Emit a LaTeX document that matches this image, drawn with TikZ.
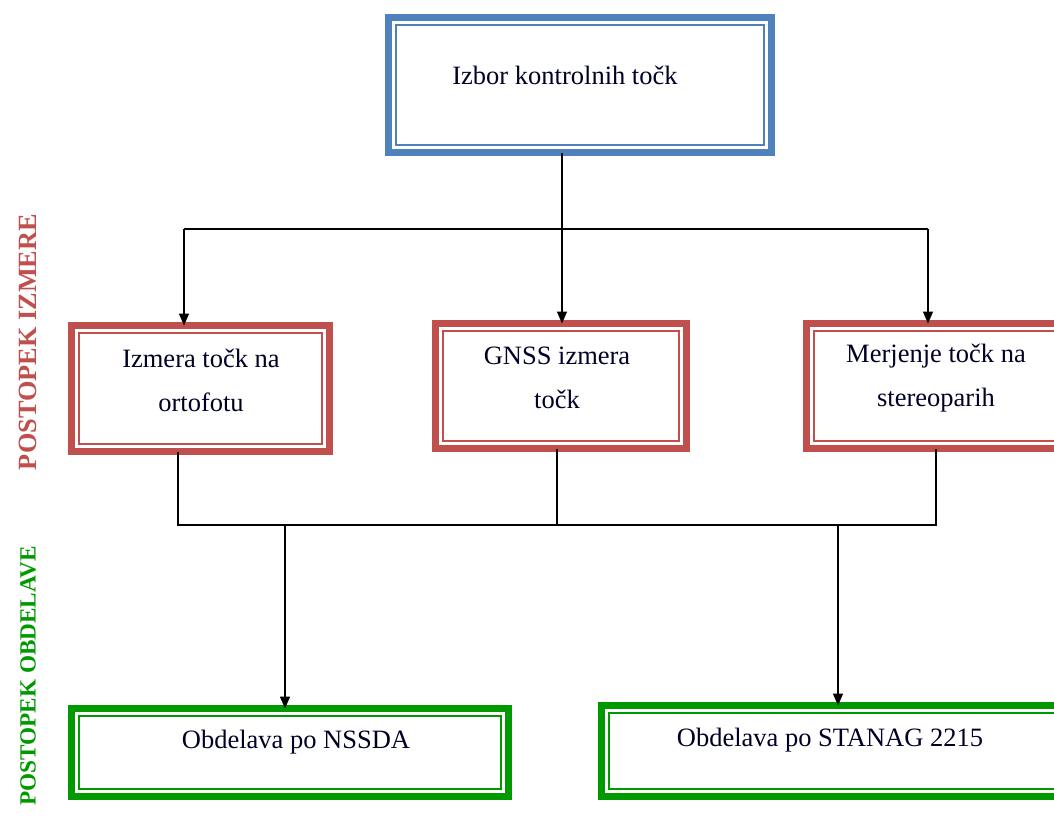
\documentclass[tikz,border=0pt]{standalone}
\usepackage{fontspec}
\setmainfont{Liberation Serif}
\usetikzlibrary{arrows.meta}
\definecolor{boxblue}{RGB}{79,129,189}
\definecolor{boxred}{RGB}{192,80,77}
\definecolor{boxgreen}{RGB}{0,153,0}
\begin{document}
\begin{tikzpicture}[x=1pt,y=-1pt,
  outerbox/.style={draw=#1, line width=7.5pt, inner sep=0pt, outer sep=0pt, rectangle},
  innerline/.style={draw=#1, line width=1.6pt},
  boxtext/.style={font=\fontsize{26.5}{44}\selectfont, align=center, inner sep=0pt, text=black!85!blue},
  sidelabel/.style={font=\fontsize{#1}{30}\selectfont\bfseries, rotate=90, inner sep=0pt},
  conn/.style={draw=black, line width=1.5pt},
  arr/.style={conn, -{Triangle[length=12pt,width=10pt]}}
]
\useasboundingbox (0,0) rectangle (1054,839);
\fill[white] (0,0) rectangle (1054,839);

% boxes (path centres)
\node[outerbox=boxblue, minimum width=383pt, minimum height=135pt] (top) at (580,85) {};
\node[outerbox=boxred, minimum width=258pt, minimum height=126pt] (left) at (200.5,388.5) {};
\node[outerbox=boxred, minimum width=251pt, minimum height=125pt] (mid) at (561,386) {};
\node[outerbox=boxred, minimum width=259pt, minimum height=125pt] (right) at (936,386) {};
\node[outerbox=boxgreen, minimum width=437pt, minimum height=88pt] (bl) at (290,752.5) {};
\node[outerbox=boxgreen, minimum width=464pt, minimum height=91pt] (br) at (833.5,751) {};

% inner thin lines
\foreach \n/\c in {top/boxblue,left/boxred,mid/boxred,right/boxred,bl/boxgreen,br/boxgreen}{
  \draw[innerline=\c] ([shift={(7.5,7.5)}]\n.north west) rectangle ([shift={(-7.5,-7.5)}]\n.south east);
}

% texts
\node[boxtext] (ttop) at (565,75) {Izbor kontrolnih točk};
\node[boxtext] (tleft) at (201,380) {Izmera točk na\\ortofotu};
\node[boxtext] (tmid) at (557,378) {GNSS izmera\\točk};
\node[boxtext] (tright) at (936,378) {Merjenje točk na\\stereoparih};
\node[boxtext] (tbl) at (296,742) {Obdelava po NSSDA};
\node[boxtext] (tbr) at (830,740) {Obdelava po STANAG 2215};

% side labels
\node[sidelabel=26.3, text=boxred] (lab1) at (28,342) {POSTOPEK IZMERE};
\node[sidelabel=23.2, text=boxgreen] (lab2) at (28,676) {POSTOPEK OBDELAVE};

% connectors, upper
\coordinate (j1) at (562,229);
\coordinate (jl) at (184,229);
\coordinate (jr) at (928,229);
\draw[conn] (jl) -- (jr);
\draw[conn] (top.south -| j1) -- (j1);
\draw[arr] (j1) -- (mid.north -| j1);
\draw[arr] (jl) -- (left.north -| jl);
\draw[arr] (jr) -- (right.north -| jr);

% connectors, lower
\coordinate (k1) at (178,525);
\coordinate (k2) at (557,525);
\coordinate (k3) at (936,525);
\coordinate (kb1) at (285,525);
\coordinate (kb2) at (838,525);
\draw[conn] (left.south -| k1) -- (k1) -- (k3) -- (right.south -| k3);
\draw[conn] (mid.south -| k2) -- (k2);
\draw[arr] (kb1) -- (bl.north -| kb1);
\draw[arr] (kb2) -- (br.north -| kb2);
\end{tikzpicture}
\end{document}
